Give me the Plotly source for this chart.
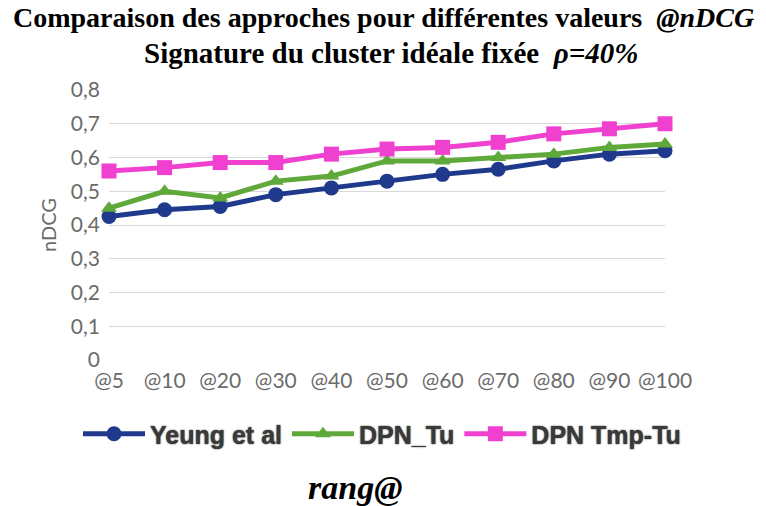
import plotly.graph_objects as go

# Rank cut-offs and nDCG scores for each approach
rangs = ["@5", "@10", "@20", "@30", "@40", "@50", "@60", "@70", "@80", "@90", "@100"]
yeung = [0.425, 0.445, 0.455, 0.49, 0.51, 0.53, 0.55, 0.565, 0.59, 0.61, 0.62]
dpn_tu = [0.45, 0.50, 0.48, 0.53, 0.545, 0.59, 0.59, 0.60, 0.61, 0.63, 0.64]
dpn_tmp_tu = [0.56, 0.57, 0.585, 0.585, 0.61, 0.625, 0.63, 0.645, 0.67, 0.685, 0.70]

y_ticks = [0, 0.1, 0.2, 0.3, 0.4, 0.5, 0.6, 0.7, 0.8]
y_ticktext = ["0", "0,1", "0,2", "0,3", "0,4", "0,5", "0,6", "0,7", "0,8"]

series = [
    ("Yeung et al", yeung, "#1f3a8c", "circle", 15),
    ("DPN_Tu", dpn_tu, "#5fa83a", "triangle-up", 14),
    ("DPN Tmp-Tu", dpn_tmp_tu, "#ef40d0", "square", 15),
]

W, H = 766, 506
L, R, T, B = 109, 101, 90, 146
plot_h = H - T - B
plot_w = W - L - R


def py(pix):
    # pixel row from the top of the page -> paper y coordinate
    return (H - B - pix) / plot_h


def px(pix):
    # pixel column from the left of the page -> paper x coordinate
    return (pix - L) / plot_w


fig = go.Figure()
for name, vals, color, symbol, size in series:
    fig.add_trace(go.Scatter(
        x=rangs, y=vals, name=name, mode="lines+markers",
        line=dict(color=color, width=5),
        marker=dict(symbol=symbol, size=size, color=color),
        cliponaxis=False,
    ))

axis_grey = "#6b6b6b"
fig.update_layout(
    width=W, height=H,
    margin=dict(l=L, r=R, t=T, b=B),
    paper_bgcolor="white", plot_bgcolor="white",
    showlegend=True,
    legend=dict(
        orientation="h", xref="paper", yref="paper",
        x=px(78), xanchor="left", y=py(434), yanchor="middle",
        font=dict(family="Liberation Sans", size=25, color="#3a3a3a",
                  weight="bold", shadow="0px 0px 1.5px #111"),
        itemwidth=62, tracegroupgap=0,
    ),
    xaxis=dict(
        type="category", range=[0, 10], showgrid=False, showline=False,
        zeroline=False, tickfont=dict(family="Lato", size=21, color=axis_grey),
        ticks="", ticklabelstandoff=6,
    ),
    yaxis=dict(
        range=[0, 0.8], tickvals=y_ticks, ticktext=y_ticktext,
        showgrid=True, gridcolor="#d9d9d9", gridwidth=1, zeroline=False,
        tickfont=dict(family="Lato", size=21, color=axis_grey),
        title=dict(text="nDCG", font=dict(family="Lato", size=20, color=axis_grey),
                   standoff=8),
        ticklabelstandoff=8,
    ),
    annotations=[
        dict(text="<b>Comparaison des approches pour différentes valeurs  <i>@nDCG</i></b>",
             xref="paper", yref="paper", x=px(W / 2), y=py(17),
             xanchor="center", yanchor="middle", showarrow=False,
             font=dict(family="Liberation Serif", size=28, color="black")),
        dict(text="<b>Signature du cluster idéale fixée  <i>ρ=40%</i></b>",
             xref="paper", yref="paper", x=px(W / 2 + 8), y=py(53),
             xanchor="center", yanchor="middle", showarrow=False,
             font=dict(family="Liberation Serif", size=29, color="black")),
        dict(text="<b><i>rang@</i></b>",
             xref="paper", yref="paper", x=px(355), y=py(487),
             xanchor="center", yanchor="middle", showarrow=False,
             font=dict(family="Liberation Serif", size=34, color="black")),
    ],
)

fig.write_html("out.html")
